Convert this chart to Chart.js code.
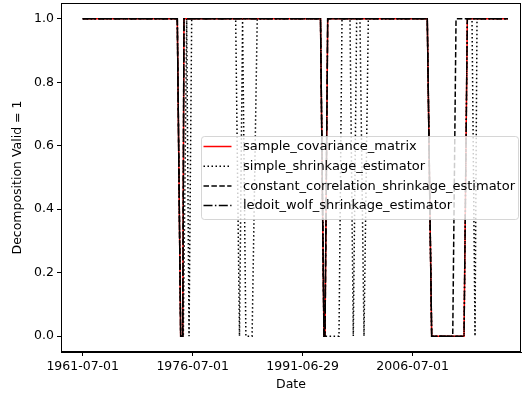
<!DOCTYPE html>
<html>
<head>
<meta charset="utf-8">
<script src="https://cdn.jsdelivr.net/npm/chart.js@4.4.1/dist/chart.umd.min.js"></script>
<style>
    html, body { margin: 0; padding: 0; background: #ffffff; }
    canvas { display: block; }
</style>
</head>
<body>
<canvas id="validChart" width="522" height="396"></canvas>
<script>
// ---------- data (dates as fractional years) ----------
const seriesNames = [
    "sample_covariance_matrix",
    "simple_shrinkage_estimator",
    "constant_correlation_shrinkage_estimator",
    "ledoit_wolf_shrinkage_estimator"
];

const sampleX = [1961.5, 1974.4, 1974.86, 1975.14, 1975.31, 1993.93, 1994.4, 1994.54, 1994.91, 2008.49, 2009.09, 2013.5, 2013.95, 2019.5];
const sampleY = [1, 1, 0, 0, 1, 1, 0, 0, 1, 1, 0, 0, 1, 1];

const simpleX = [1961.5, 1974.4, 1974.86, 1975.22, 1975.68, 1976.0, 1976.36, 1982.36, 1982.88, 1983.3, 1983.75, 1984.6, 1985.3,
    1993.93, 1994.4, 1996.45, 1996.86, 1997.95, 1998.4, 1998.86, 1999.31, 1999.86, 2000.45,
    2008.49, 2009.09, 2013.5, 2013.95, 2014.59, 2015.0, 2015.27, 2019.5];
const simpleY = [1, 1, 0, 0, 1, 0, 1, 1, 0, 1, 0, 0, 1,
    1, 0, 0, 1, 1, 0, 1, 1, 0, 1,
    1, 0, 0, 1, 1, 0, 1, 1];

const constantX = [1961.5, 1974.4, 1974.86, 1975.14, 1975.31, 1993.93, 1994.4, 1994.54, 1994.91, 2008.49, 2009.09, 2011.96, 2012.41, 2019.5];
const constantY = [1, 1, 0, 0, 1, 1, 0, 0, 1, 1, 0, 0, 1, 1];

const ledoitX = [1961.5, 1974.4, 1974.86, 1975.14, 1975.31, 1993.93, 1994.4, 1994.54, 1994.91, 2008.49, 2009.09, 2013.5, 2013.95, 2019.5];
const ledoitY = [1, 1, 0, 0, 1, 1, 0, 0, 1, 1, 0, 0, 1, 1];

const xTickValues = [1961.5, 1976.5, 1991.49, 2006.5];
const xTickLabels = ["1961-07-01", "1976-07-01", "1991-06-29", "2006-07-01"];
const yTickValues = [0, 0.2, 0.4, 0.6, 0.8, 1.0];

const FONT = "DejaVu Sans";

function toPoints(xs, ys) {
    return xs.map((x, i) => ({ x: x, y: ys[i] }));
}

// ---------- plugins ----------
const frameBox = {
    id: "frameBox",
    afterDatasetsDraw(chart) {
        const a = chart.chartArea;
        const ctx = chart.ctx;
        ctx.save();
        ctx.strokeStyle = "#000000";
        ctx.lineWidth = 1;
        ctx.strokeRect(Math.round(a.left) + 0.5, Math.round(a.top) + 0.5,
            Math.round(a.right - a.left) - 1, Math.round(a.bottom - a.top) - 1);
        ctx.restore();
    }
};

const boxLegend = {
    id: "boxLegend",
    afterDraw(chart) {
        const ctx = chart.ctx;
        const x0 = 201.5, y0 = 136.5, w = 317, h = 83, r = 3;
        ctx.save();
        ctx.beginPath();
        ctx.roundRect(x0, y0, w, h, r);
        ctx.fillStyle = "rgba(255,255,255,0.8)";
        ctx.fill();
        ctx.strokeStyle = "rgba(204,204,204,0.8)";
        ctx.lineWidth = 1;
        ctx.stroke();

        ctx.font = "13px '" + FONT + "'";
        ctx.textBaseline = "middle";
        chart.data.datasets.forEach((ds, i) => {
            const y = 146.5 + i * 19.7;
            ctx.beginPath();
            ctx.setLineDash(ds.borderDash || []);
            ctx.strokeStyle = ds.borderColor;
            ctx.lineWidth = ds.borderWidth;
            ctx.moveTo(203.5, y);
            ctx.lineTo(231.5, y);
            ctx.stroke();
            ctx.setLineDash([]);
            ctx.fillStyle = "#000000";
            ctx.fillText(ds.label, 243, y + 0.5);
        });
        ctx.restore();
    }
};

// ---------- chart ----------
const chart = new Chart(document.getElementById("validChart"), {
    type: "line",
    data: {
        datasets: [
            {
                label: seriesNames[0],
                data: toPoints(sampleX, sampleY),
                borderColor: "#ff0000",
                borderWidth: 1.5,
                order: 3
            },
            {
                label: seriesNames[1],
                data: toPoints(simpleX, simpleY),
                borderColor: "#000000",
                borderWidth: 1.5,
                borderDash: [1.5, 2.5],
                order: 2
            },
            {
                label: seriesNames[2],
                data: toPoints(constantX, constantY),
                borderColor: "#000000",
                borderWidth: 1.5,
                borderDash: [5.5, 2.4],
                order: 1
            },
            {
                label: seriesNames[3],
                data: toPoints(ledoitX, ledoitY),
                borderColor: "#000000",
                borderWidth: 1.5,
                borderDash: [9, 2.4, 1.5, 2.4],
                order: 0
            }
        ]
    },
    options: {
        responsive: false,
        animation: false,
        layout: {
            padding: { top: 3, right: 1, left: 0, bottom: 0 }
        },
        elements: {
            point: { radius: 0 },
            line: { tension: 0, fill: false }
        },
        plugins: {
            legend: { display: false },
            tooltip: { enabled: false }
        },
        scales: {
            x: {
                type: "linear",
                min: 1958.54,
                max: 2021.27,
                afterBuildTicks(scale) {
                    scale.ticks = xTickValues.map(v => ({ value: v }));
                },
                afterFit(scale) {
                    scale.height = 44;
                    scale.paddingLeft = 0;
                    scale.paddingRight = 0;
                },
                ticks: {
                    autoSkip: false,
                    maxRotation: 0,
                    padding: 3,
                    color: "#000000",
                    font: { family: FONT, size: 12.5 },
                    callback: (value, index) => xTickLabels[index]
                },
                grid: {
                    drawOnChartArea: false,
                    drawTicks: true,
                    tickLength: 4,
                    color: "#000000"
                },
                border: { display: true, color: "#000000", width: 1 },
                title: {
                    display: true,
                    text: "Date",
                    color: "#000000",
                    font: { family: FONT, size: 12.5 },
                    padding: { top: 0, bottom: 3.5 }
                }
            },
            y: {
                min: -0.05,
                max: 1.05,
                afterBuildTicks(scale) {
                    scale.ticks = yTickValues.map(v => ({ value: v }));
                },
                afterFit(scale) {
                    scale.width = 61;
                    scale.paddingTop = 0;
                    scale.paddingBottom = 0;
                },
                ticks: {
                    padding: 3,
                    color: "#000000",
                    font: { family: FONT, size: 12.5 },
                    callback: value => value.toFixed(1)
                },
                grid: {
                    drawOnChartArea: false,
                    drawTicks: true,
                    tickLength: 4,
                    color: "#000000"
                },
                border: { display: true, color: "#000000", width: 1 },
                title: {
                    display: true,
                    text: "Decomposition Valid = 1",
                    color: "#000000",
                    font: { family: FONT, size: 12.5 },
                    padding: { top: 10.5, bottom: 0 }
                }
            }
        }
    },
    plugins: [frameBox, boxLegend]
});
</script>
</body>
</html>
